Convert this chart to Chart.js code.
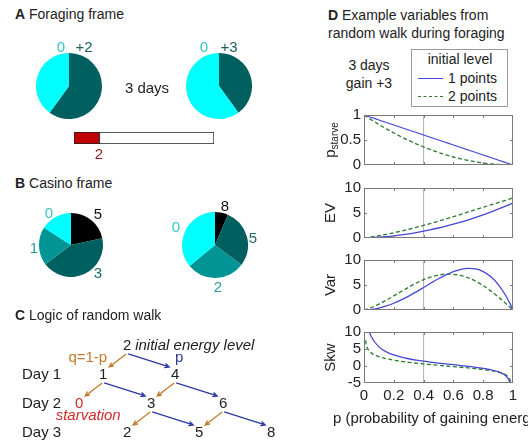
<!DOCTYPE html>
<html lang="en">
<head>
<meta charset="utf-8">
<title>Foraging frame vs casino frame</title>
<script src="https://cdn.jsdelivr.net/npm/chart.js@4.4.1/dist/chart.umd.min.js"></script>
<style>
    html, body { margin: 0; padding: 0; }
    body {
        position: relative;
        width: 528px;
        height: 444px;
        overflow: hidden;
        background: #fff;
        color: #222;
        font-family: "Liberation Sans", Arial, sans-serif;
        font-size: 14px;
    }
    canvas, .t { position: absolute; }
    .t { white-space: nowrap; line-height: 1; }
    .c { transform: translate(-50%, -50%); }
    .l { transform: translateY(-50%); }
    .big { font-size: 15px; }
    #legend {
        position: absolute;
        left: 411px; top: 49px;
        width: 95px; height: 56px;
        border: 1px solid #9a9a9a;
        background: #fff;
    }
    .swatch { position: absolute; left: 6px; width: 25px; height: 0; }
</style>
</head>
<body>

<!-- A: foraging frame -->
<div class="t l" style="left:15px; top:14px;"><b>A</b> Foraging frame</div>
<canvas id="forageLeft" width="66" height="66" style="left:36px; top:53px;"></canvas>
<canvas id="forageRight" width="66" height="66" style="left:186px; top:53px;"></canvas>
<div class="t c big" style="left:61px; top:46px; color:#33c6c6;">0</div>
<div class="t c big" style="left:84px; top:46px; color:#1f5c5c;">+2</div>
<div class="t c big" style="left:204px; top:46px; color:#33c6c6;">0</div>
<div class="t c big" style="left:229px; top:46px; color:#1f5c5c;">+3</div>
<div class="t c big" style="left:147px; top:87px;">3 days</div>
<canvas id="energyBar" width="140" height="12" style="left:74px; top:132px;"></canvas>
<div class="t c big" style="left:99px; top:153px; color:#a01c1c;">2</div>

<!-- B: casino frame -->
<div class="t l" style="left:15px; top:183px;"><b>B</b> Casino frame</div>
<canvas id="casinoLeft" width="64" height="64" style="left:39px; top:213px;"></canvas>
<canvas id="casinoRight" width="66" height="66" style="left:182px; top:212px;"></canvas>
<div class="t c big" style="left:49px; top:212px; color:#33c6c6;">0</div>
<div class="t c big" style="left:98px; top:213px; color:#111;">5</div>
<div class="t c big" style="left:34px; top:247px; color:#2a9c9c;">1</div>
<div class="t c big" style="left:98px; top:272px; color:#1f6b6b;">3</div>
<div class="t c big" style="left:225px; top:205px; color:#111;">8</div>
<div class="t c big" style="left:176px; top:226px; color:#33c6c6;">0</div>
<div class="t c big" style="left:253px; top:237px; color:#1f6b6b;">5</div>
<div class="t c big" style="left:218px; top:286px; color:#2a9c9c;">2</div>

<!-- C: random walk -->
<div class="t l" style="left:15px; top:315px;"><b>C</b> Logic of random walk</div>
<canvas id="walk" width="300" height="114" style="left:0px; top:330px;"></canvas>

<!-- D: example variables -->
<div class="t l" style="left:328px; top:15px;"><b>D</b> Example variables from</div>
<div class="t l" style="left:328px; top:33px;">random walk during foraging</div>
<div class="t c" style="left:369px; top:65px;">3 days</div>
<div class="t c" style="left:369px; top:83px;">gain +3</div>
<div id="legend"></div>
<canvas id="plotStarve" width="228" height="74" style="left:300px; top:103px;"></canvas>
<canvas id="plotEV" width="228" height="74" style="left:300px; top:176px;"></canvas>
<canvas id="plotVar" width="228" height="74" style="left:300px; top:248px;"></canvas>
<canvas id="plotSkw" width="228" height="90" style="left:300px; top:320px;"></canvas>
<div class="t c big" style="left:438px; top:417px;">p (probability of gaining energy)</div>

<script>
// ---------------- data ----------------

// A: one foraging day, outcome and its chance
const forageLeftOutcomes = ['+2', '0'];
const forageLeftProbs = [0.6, 0.4];
const forageRightOutcomes = ['+3', '0'];
const forageRightProbs = [0.4, 0.6];
// energy bar: current level against the full bar
const energyNow = 2;
const energyFull = 11;

// B: final energy after 3 days, shown as a lottery
const casinoLeftLevels = ['5', '3', '1', '0'];
const casinoLeftProbs = [0.216, 0.432, 0.192, 0.16];
const casinoRightLevels = ['8', '5', '2', '0'];
const casinoRightProbs = [0.064, 0.288, 0.288, 0.36];

// C: nodes of the walk tree (day, energy level)
const walkDays = [0, 1, 1, 2, 2, 2, 3, 3, 3];
const walkLevels = [2, 1, 4, 0, 3, 6, 2, 5, 8];
const walkLoss = 1;
const walkGain = 2;

// D: variables against p, initial level 1 and 2 points
const seriesNames = ['1 points', '2 points'];
const pValues = [0, 0.01, 0.02, 0.03, 0.05, 0.1, 0.15, 0.2, 0.25, 0.3, 0.35, 0.4, 0.45,
                 0.5, 0.55, 0.6, 0.65, 0.7, 0.75, 0.8, 0.85, 0.9, 0.95, 0.98, 0.99, 1];
const starve1 = [1, 0.99, 0.98, 0.97, 0.95, 0.9, 0.85, 0.8, 0.75, 0.7, 0.65, 0.6, 0.55,
                 0.5, 0.45, 0.4, 0.35, 0.3, 0.25, 0.2, 0.15, 0.1, 0.05, 0.02, 0.01, 0];
const starve2 = [1, 0.98, 0.96, 0.941, 0.903, 0.81, 0.723, 0.64, 0.563, 0.49, 0.423, 0.36, 0.303,
                 0.25, 0.203, 0.16, 0.123, 0.09, 0.063, 0.04, 0.023, 0.01, 0.003, 0.0004, 0.0001, 0];
const ev1 = [0, 0.011, 0.022, 0.035, 0.065, 0.16, 0.285, 0.44, 0.625, 0.84, 1.085, 1.36, 1.665,
             2.0, 2.365, 2.76, 3.185, 3.64, 4.125, 4.64, 5.185, 5.76, 6.365, 6.742, 6.871, 7];
const ev2 = [0, 0.041, 0.083, 0.126, 0.217, 0.467, 0.747, 1.056, 1.391, 1.749, 2.129, 2.528, 2.944,
             3.375, 3.818, 4.272, 4.734, 5.201, 5.672, 6.144, 6.615, 7.083, 7.545, 7.819, 7.91, 8];
const var1 = [0, 0.013, 0.032, 0.056, 0.123, 0.392, 0.805, 1.35, 2.016, 2.78, 3.62, 4.502, 5.393,
              6.25, 7.027, 7.67, 8.124, 8.324, 8.203, 7.686, 6.695, 5.144, 2.945, 1.274, 0.653, 0];
const var2 = [0, 0.084, 0.177, 0.277, 0.5, 1.169, 1.959, 2.821, 3.707, 4.57, 5.367, 6.057, 6.606,
              6.984, 7.168, 7.142, 6.896, 6.431, 5.752, 4.875, 3.825, 2.634, 1.343, 0.54, 0.27, 0];
const skw1 = [null, 15.28, 12.44, 10.74, 8.52, 5.63, 4.16, 3.25, 2.61, 2.13, 1.74, 1.41, 1.13,
              0.86, 0.62, 0.38, 0.14, -0.11, -0.38, -0.7, -1.1, -1.68, -2.82, -4.86, -7.06, null];
const skw2 = [null, 7.53, 5.57, 4.7, 3.79, 2.73, 2.13, 1.7, 1.36, 1.07, 0.83, 0.6, 0.4,
              0.2, 0.01, -0.18, -0.37, -0.57, -0.79, -1.03, -1.34, -1.77, -2.59, -4.11, -5.8, null];
const foragingP = 0.4;
const xTicks = [0, 0.2, 0.4, 0.6, 0.8, 1];

// ---------------- colours ----------------
const cyan = '#00ffff';
const tealDark = '#005f5f';
const tealMid = '#009494';
const blueLine = '#4646d8';
const greenLine = '#2f7a2f';
const lossColor = '#c27a2c';
const gainColor = '#2a3aa0';
const starveColor = '#d42a2a';
const fontFamily = '"Liberation Sans", Arial, sans-serif';

Chart.defaults.font.family = fontFamily;
Chart.defaults.font.size = 14;
Chart.defaults.color = '#222';
Chart.defaults.animation = false;
Chart.defaults.responsive = false;
Chart.defaults.plugins.legend.display = false;
Chart.defaults.plugins.tooltip.enabled = false;

// ---------------- A and B: pies ----------------
function makePie(id, labels, values, colors) {
    new Chart(document.getElementById(id), {
        type: 'pie',
        data: {
            labels: labels,
            datasets: [{ data: values, backgroundColor: colors, borderWidth: 0, hoverOffset: 0 }]
        },
        options: { layout: { padding: 0 } }
    });
}

makePie('forageLeft', forageLeftOutcomes, forageLeftProbs, [tealDark, cyan]);
makePie('forageRight', forageRightOutcomes, forageRightProbs, [tealDark, cyan]);
makePie('casinoLeft', casinoLeftLevels, casinoLeftProbs, ['#000', tealDark, tealMid, cyan]);
makePie('casinoRight', casinoRightLevels, casinoRightProbs, ['#000', tealDark, tealMid, cyan]);

// energy bar: red part is the current level
new Chart(document.getElementById('energyBar'), {
    type: 'bar',
    data: {
        labels: ['energy'],
        datasets: [
            { data: [energyNow], backgroundColor: '#c00000' },
            { data: [energyFull - energyNow], backgroundColor: '#fff' }
        ]
    },
    options: {
        indexAxis: 'y',
        layout: { padding: 0 },
        datasets: { bar: { borderColor: '#222', borderWidth: 1, borderSkipped: false,
                           barPercentage: 1, categoryPercentage: 1 } },
        scales: {
            x: { stacked: true, min: 0, max: energyFull, display: false },
            y: { stacked: true, display: false }
        }
    }
});

// ---------------- C: random walk tree ----------------
function drawArrow(ctx, x0, y0, x1, y1, color) {
    const a = Math.atan2(y1 - y0, x1 - x0);
    const h = 5;
    ctx.strokeStyle = color;
    ctx.lineWidth = 1.3;
    ctx.beginPath();
    ctx.moveTo(x0, y0);
    ctx.lineTo(x1, y1);
    ctx.moveTo(x1 - h * Math.cos(a - 0.45), y1 - h * Math.sin(a - 0.45));
    ctx.lineTo(x1, y1);
    ctx.lineTo(x1 - h * Math.cos(a + 0.45), y1 - h * Math.sin(a + 0.45));
    ctx.stroke();
}

const walkPlugin = {
    id: 'walkTree',
    afterDatasetsDraw(chart) {
        const { ctx, scales: { x, y } } = chart;
        const lastDay = Math.max(...walkDays);
        ctx.save();
        ctx.font = '15px ' + fontFamily;
        ctx.textBaseline = 'middle';

        // day labels
        ctx.fillStyle = '#222';
        ctx.textAlign = 'left';
        for (let d = 1; d <= lastDay; d++) {
            ctx.fillText('Day ' + d, 22, y.getPixelForValue(d));
        }

        walkDays.forEach((d, i) => {
            const lvl = walkLevels[i];
            const px = x.getPixelForValue(lvl);
            const py = y.getPixelForValue(d);
            ctx.fillStyle = lvl === 0 ? starveColor : '#222';
            ctx.textAlign = 'center';
            ctx.fillText(String(lvl), px, py);

            if (lvl === 0) {
                ctx.font = 'italic 15px ' + fontFamily;
                ctx.fillText('starvation', px + 9, py + 12);
                ctx.font = '15px ' + fontFamily;
            }
            if (d === 0) {
                ctx.fillStyle = '#222';
                ctx.textAlign = 'left';
                ctx.font = 'italic 15px ' + fontFamily;
                ctx.fillText('initial energy level', px + 8, py);
                ctx.font = '15px ' + fontFamily;
                ctx.textAlign = 'right';
                ctx.fillStyle = lossColor;
                ctx.fillText('q=1-p', px - 20, py + 12);
                ctx.textAlign = 'center';
                ctx.fillStyle = gainColor;
                ctx.fillText('p', px + 52, py + 12);
            }
            if (lvl === 0 || d === lastDay) return;

            [[lvl - walkLoss, lossColor], [lvl + walkGain, gainColor]].forEach(([target, col]) => {
                const tx = x.getPixelForValue(target);
                const ty = y.getPixelForValue(d + 1);
                const dir = Math.sign(tx - px);
                drawArrow(ctx, px + dir, py + 8, tx - dir * 6, ty - 8, col);
            });
        });
        ctx.restore();
    }
};

new Chart(document.getElementById('walk'), {
    type: 'scatter',
    data: {
        datasets: [{
            data: walkDays.map((d, i) => ({ x: walkLevels[i], y: d })),
            pointRadius: 0
        }]
    },
    options: {
        layout: { padding: 0 },
        scales: {
            x: { type: 'linear', min: -3.3, max: 9.2, display: false },
            y: { type: 'linear', min: -0.55, max: 3.38, reverse: true, display: false }
        }
    },
    plugins: [walkPlugin]
});

// ---------------- D: variables against p ----------------

// MATLAB-like box, inward ticks and rotated y label
const axesBox = {
    id: 'axesBox',
    afterDraw(chart, args, opts) {
        const { ctx, chartArea: a, scales: { x, y } } = chart;
        ctx.save();
        ctx.strokeStyle = '#7a7a7a';
        ctx.lineWidth = 1;
        ctx.strokeRect(a.left + 0.5, a.top + 0.5, a.right - a.left - 1, a.bottom - a.top - 1);
        ctx.beginPath();
        xTicks.slice(1, -1).forEach(v => {
            const px = Math.round(x.getPixelForValue(v)) + 0.5;
            ctx.moveTo(px, a.bottom); ctx.lineTo(px, a.bottom - 3);
            ctx.moveTo(px, a.top); ctx.lineTo(px, a.top + 3);
        });
        opts.yTicks.slice(1, -1).forEach(v => {
            const py = Math.round(y.getPixelForValue(v)) + 0.5;
            ctx.moveTo(a.left, py); ctx.lineTo(a.left + 3, py);
            ctx.moveTo(a.right, py); ctx.lineTo(a.right - 3, py);
        });
        ctx.stroke();

        // y label, with an optional subscript
        ctx.translate(31, (a.top + a.bottom) / 2);
        ctx.rotate(-Math.PI / 2);
        ctx.fillStyle = '#222';
        ctx.textBaseline = 'middle';
        ctx.textAlign = 'left';
        ctx.font = '15px ' + fontFamily;
        const mainW = ctx.measureText(opts.label).width;
        let subW = 0;
        if (opts.sub) {
            ctx.font = '10px ' + fontFamily;
            subW = ctx.measureText(opts.sub).width;
        }
        const start = -(mainW + subW) / 2;
        ctx.font = '15px ' + fontFamily;
        ctx.fillText(opts.label, start, 0);
        if (opts.sub) {
            ctx.font = '10px ' + fontFamily;
            ctx.fillText(opts.sub, start + mainW, 4);
        }
        ctx.restore();
    }
};

function curve(ys, color, dash) {
    return {
        data: pValues.map((p, i) => ({ x: p, y: ys[i] })),
        borderColor: color,
        borderWidth: 1.3,
        borderDash: dash,
        pointRadius: 0,
        cubicInterpolationMode: 'monotone'
    };
}

function makePlot(id, opts) {
    const showX = !!opts.showX;
    new Chart(document.getElementById(id), {
        type: 'line',
        data: {
            datasets: [
                curve(opts.one, blueLine, []),
                curve(opts.two, greenLine, [4, 2.5]),
                {
                    data: [{ x: foragingP, y: opts.min }, { x: foragingP, y: opts.max }],
                    borderColor: '#9a9a9a',
                    borderWidth: 0.8,
                    pointRadius: 0
                }
            ]
        },
        options: {
            layout: { padding: { top: 10, right: 15, bottom: showX ? 0 : 10, left: 0 } },
            scales: {
                x: {
                    type: 'linear', min: 0, max: 1, display: showX,
                    grid: { display: false, drawTicks: false },
                    border: { display: false },
                    ticks: { padding: 4, maxRotation: 0, autoSkip: false, font: { size: 15 },
                             callback: v => String(v) },
                    afterBuildTicks: s => { s.ticks = xTicks.map(v => ({ value: v })); },
                    afterFit: showX ? (s => { s.height = 27; }) : undefined
                },
                y: {
                    type: 'linear', min: opts.min, max: opts.max,
                    grid: { display: false, drawTicks: false },
                    border: { display: false },
                    ticks: { padding: 3, autoSkip: false, font: { size: 15 },
                             callback: v => String(v) },
                    afterBuildTicks: s => { s.ticks = opts.ticks.map(v => ({ value: v })); },
                    afterFit: s => { s.width = 64; }
                }
            },
            plugins: { axesBox: { yTicks: opts.ticks, label: opts.label, sub: opts.sub } }
        },
        plugins: [axesBox]
    });
}

makePlot('plotStarve', { one: starve1, two: starve2, min: 0, max: 1, ticks: [0, 0.5, 1], label: 'p', sub: 'starve' });
makePlot('plotEV', { one: ev1, two: ev2, min: 0, max: 10, ticks: [0, 5, 10], label: 'EV' });
makePlot('plotVar', { one: var1, two: var2, min: 0, max: 10, ticks: [0, 5, 10], label: 'Var' });
makePlot('plotSkw', { one: skw1, two: skw2, min: -5, max: 10, ticks: [-5, 0, 5, 10], label: 'Skw', showX: true });

// legend box
const legend = document.getElementById('legend');
const head = document.createElement('div');
head.className = 't c';
head.style.cssText = 'left:48px; top:9px;';
head.textContent = 'initial level';
legend.appendChild(head);
seriesNames.forEach((name, i) => {
    const rowY = 28 + i * 18;
    const sw = document.createElement('div');
    sw.className = 'swatch';
    sw.style.top = rowY + 'px';
    sw.style.borderTop = '1.3px ' + (i === 0 ? 'solid ' + blueLine : 'dashed ' + greenLine);
    legend.appendChild(sw);
    const txt = document.createElement('div');
    txt.className = 't l';
    txt.style.cssText = 'left:36px; top:' + rowY + 'px;';
    txt.textContent = name;
    legend.appendChild(txt);
});
</script>
</body>
</html>
